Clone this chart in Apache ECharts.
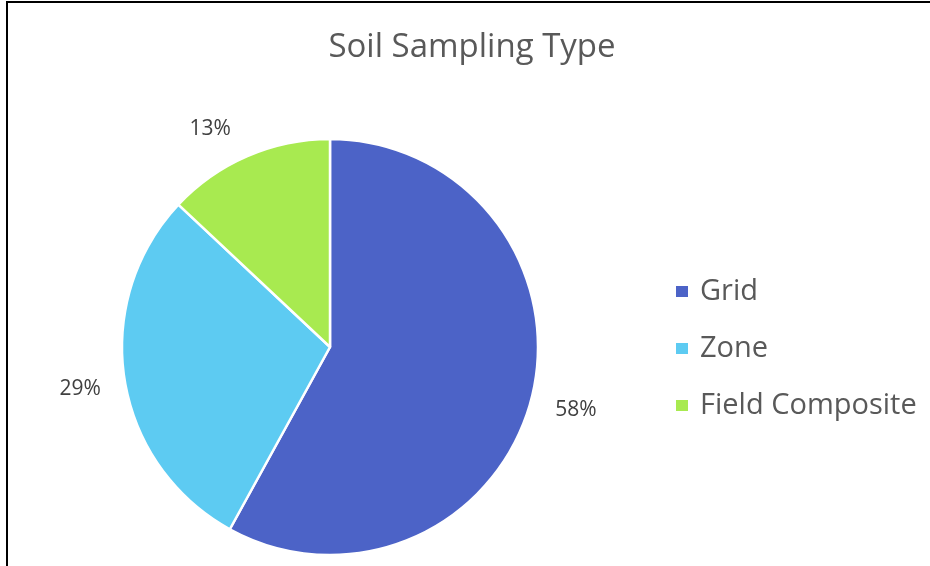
<!DOCTYPE html>
<html>
<head>
<meta charset="utf-8">
<script src="https://cdn.jsdelivr.net/npm/echarts@6/dist/echarts.min.js"></script>
<style>
html,body{margin:0;padding:0;background:#fff;}
#chart{width:930px;height:566px;}
</style>
</head>
<body>
<div id="chart"></div>
<script>
const titleText = 'Soil Sampling Type';
const categories = ['Grid', 'Zone', 'Field Composite'];
const values = [58, 29, 13];
const colors = ['#4c63c7', '#5dcbf2', '#a8ea50'];
// small label nudges (style only), in px
const labelOffsets = [[0, 0], [1, 2], [-19, 15]];

const fontFam = '"Open Sans", "Noto Sans", sans-serif';
const pieData = categories.map((c, i) => ({ name: c, value: values[i], itemStyle: { color: colors[i] } }));
const labelData = categories.map((c, i) => ({ name: c, value: values[i], label: { offset: labelOffsets[i] } }));

const chart = echarts.init(document.getElementById('chart'), null, { renderer: 'canvas' });
chart.setOption({
  backgroundColor: '#ffffff',
  animation: false,
  title: {
    text: titleText,
    left: 467,
    textAlign: 'center',
    top: 26,
    textStyle: { fontFamily: fontFam, fontSize: 33, fontWeight: 'normal', color: '#595959' }
  },
  legend: {
    orient: 'vertical',
    left: 674,
    top: 277,
    padding: 0,
    itemWidth: 14,
    itemHeight: 13,
    itemGap: 28,
    icon: 'rect',
    data: categories,
    textStyle: { fontFamily: fontFam, fontSize: 29, lineHeight: 28, color: '#595959', padding: [0, 0, 0, 6] }
  },
  graphic: [{
    type: 'polyline',
    shape: { points: [[7, 566], [7, 2], [930, 2]] },
    style: { stroke: '#000', lineWidth: 2, fill: null },
    silent: true
  }],
  series: [
    {
      type: 'pie',
      center: [330, 347],
      radius: 208,
      startAngle: 90,
      clockwise: true,
      data: pieData,
      label: { show: false },
      labelLine: { show: false },
      itemStyle: { borderColor: '#ffffff', borderWidth: 2.5 },
      emphasis: { disabled: true }
    },
    {
      type: 'pie',
      center: [330, 347],
      radius: [230, 272],
      startAngle: 90,
      clockwise: true,
      silent: true,
      data: labelData,
      itemStyle: { color: 'rgba(0,0,0,0)' },
      label: {
        show: true,
        position: 'inside',
        formatter: '{d}%',
        fontFamily: fontFam,
        fontSize: 21,
        color: '#404040'
      },
      labelLine: { show: false },
      emphasis: { disabled: true }
    }
  ]
});
</script>
</body>
</html>
